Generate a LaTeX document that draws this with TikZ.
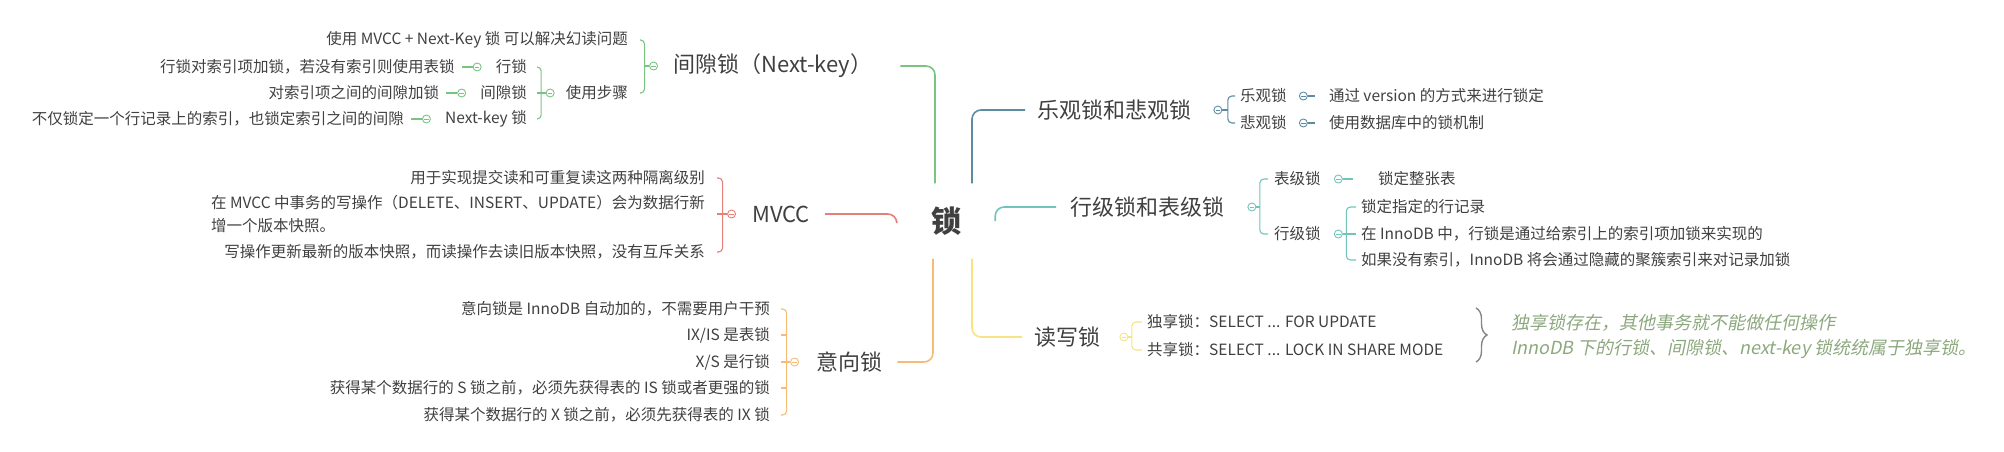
\documentclass[tikz,border=0pt]{standalone}
\usepackage{fontspec}
\setmainfont{Noto Sans CJK SC}
\newfontfamily\slantfont{Noto Sans CJK SC}[FakeSlant=0.2]
\usetikzlibrary{positioning,decorations.pathreplacing}

\definecolor{ink}{RGB}{64,64,64}
\definecolor{gapcol}{RGB}{122,196,130}
\definecolor{mvcccol}{RGB}{228,128,120}
\definecolor{intcol}{RGB}{246,188,115}
\definecolor{optcol}{RGB}{92,140,162}
\definecolor{rowcol}{RGB}{112,196,186}
\definecolor{rwcol}{RGB}{248,226,130}
\definecolor{bracecol}{RGB}{135,135,135}
\definecolor{notecol}{RGB}{140,168,125}

\begin{document}
\begin{tikzpicture}[x = 1pt, y = -1pt,
        txt/.style = {inner sep = 0pt, text = ink, font = \fontsize{15.5}{23}\selectfont},
        topic/.style = {inner sep = 0pt, text = ink, font = \fontsize{22}{26}\selectfont},
        cir/.style = {circle, draw = #1, fill = white, line width = 0.9pt, minimum size = 8pt, inner sep = 0pt,
            path picture = {\draw[#1, line width = 0.8pt] ([xshift = -2.2pt]path picture bounding box.center) -- ([xshift = 2.2pt]path picture bounding box.center);}},
        branch/.style = {draw = #1, line width = 1.6pt, rounded corners = 9pt},
        twig/.style = {draw = #1, line width = 1.1pt, rounded corners = 4pt}]
        \useasboundingbox (0, 0) rectangle (2004, 452);

        \node[inner sep = 0pt, minimum width = 98pt, minimum height = 75pt, text = ink, font = \fontsize{30}{30}\selectfont\bfseries] (lock) at (946, 221) {锁};

        % 间隙锁
        \node[topic, anchor = west] (gap) at (673, 66) {间隙锁（Next-key）};
        \node[cir = gapcol, left = 15pt of gap] (gapc) {};
        \coordinate (gapb) at ([xshift = -9pt]gapc.center);
        \node[txt, anchor = east] (gap1) at (628, 40) {使用 MVCC + Next-Key 锁 可以解决幻读问题};
        \node[txt, anchor = east] (gap2) at (628, 93) {使用步骤};
        \node[cir = gapcol, left = 11pt of gap2] (stepc) {};
        \coordinate (stepb) at ([xshift = -9pt]stepc.center);
        \node[txt, anchor = east] (step1) at (527, 67) {行锁};
        \node[txt, anchor = east] (step2) at (527, 93) {间隙锁};
        \node[txt, anchor = east] (step3) at (527, 119) {Next-key 锁};
        \foreach \i in {1, 2, 3}
            \node[cir = gapcol, left = 14pt of step\i] (stepc\i) {};
        \node[txt, left = 18pt of stepc1] (stepnote1) {行锁对索引项加锁，若没有索引则使用表锁};
        \node[txt, left = 18pt of stepc2] (stepnote2) {对索引项之间的间隙加锁};
        \node[txt, left = 18pt of stepc3] (stepnote3) {不仅锁定一个行记录上的索引，也锁定索引之间的间隙};

        \draw[branch = gapcol] ([xshift = -11pt]lock.north) |- ([xshift = 28pt]gap.east);
        \draw[twig = gapcol] ([xshift = 12pt]gap1.east) -| (gapb) |- ([xshift = 12pt]gap2.east);
        \draw[twig = gapcol] (gapc.west) -- (gapb);
        \draw[twig = gapcol] ([xshift = 10pt]step1.east) -| (stepb) |- ([xshift = 10pt]step3.east);
        \draw[twig = gapcol] (stepc.west) -- ([xshift = 10pt]step2.east);
        \foreach \i in {1, 2, 3}
            \draw[twig = gapcol] (stepc\i.west) -- ([xshift = 7pt]stepnote\i.east);

        % MVCC
        \node[topic, anchor = west] (mvcc) at (752, 214) {MVCC};
        \node[cir = mvcccol, left = 16pt of mvcc] (mvccc) {};
        \coordinate (mvccb) at ([xshift = -9pt]mvccc.center);
        \node[txt, anchor = east] (mvcc1) at (705, 178) {用于实现提交读和可重复读这两种隔离级别};
        \node[txt, anchor = east, align = left] (mvcc2) at (705, 214) {在 MVCC 中事务的写操作（DELETE、INSERT、UPDATE）会为数据行新\\增一个版本快照。};
        \node[txt, anchor = east] (mvcc3) at (705, 252) {写操作更新最新的版本快照，而读操作去读旧版本快照，没有互斥关系};

        \draw[branch = mvcccol] ([xshift = 15pt]mvcc.east) -| (lock.west);
        \draw[twig = mvcccol] ([xshift = 12pt]mvcc1.east) -| (mvccb) |- ([xshift = 12pt]mvcc3.east);
        \draw[twig = mvcccol] (mvccc.west) -- ([xshift = 12pt]mvcc2.east);

        % 意向锁
        \node[topic, anchor = west] (intent) at (816, 362) {意向锁};
        \node[cir = intcol, left = 17pt of intent] (intc) {};
        \coordinate (intb) at ([xshift = -8pt]intc.center);
        \node[txt, anchor = east] (int1) at (770, 309) {意向锁是 InnoDB 自动加的，不需要用户干预};
        \node[txt, anchor = east] (int2) at (770, 335) {IX/IS 是表锁};
        \node[txt, anchor = east] (int3) at (770, 362) {X/S 是行锁};
        \node[txt, anchor = east] (int4) at (770, 388) {获得某个数据行的 S 锁之前，必须先获得表的 IS 锁或者更强的锁};
        \node[txt, anchor = east] (int5) at (770, 415) {获得某个数据行的 X 锁之前，必须先获得表的 IX 锁};

        \draw[branch = intcol] ([xshift = -13pt]lock.south) |- ([xshift = 15pt]intent.east);
        \draw[twig = intcol] ([xshift = 11pt]int1.east) -| (intb) |- ([xshift = 11pt]int5.east);
        \draw[twig = intcol] (intc.west) -- ([xshift = 11pt]int3.east);
        \foreach \i in {2, 4}
            \draw[twig = intcol] (intb |- int\i.east) -- ([xshift = 11pt]int\i.east);

        % 乐观锁和悲观锁
        \node[topic, anchor = west] (optim) at (1037, 110) {乐观锁和悲观锁};
        \node[cir = optcol, right = 22pt of optim] (optc) {};
        \coordinate (optb) at ([xshift = 10pt]optc.center);
        \node[txt, anchor = west] (opt1) at (1240, 96) {乐观锁};
        \node[txt, anchor = west] (opt2) at (1240, 123) {悲观锁};
        \foreach \i in {1, 2}
            \node[cir = optcol, right = 12pt of opt\i] (optc\i) {};
        \node[txt, right = 21pt of optc1] (optnote1) {通过 version 的方式来进行锁定};
        \node[txt, right = 21pt of optc2] (optnote2) {使用数据库中的锁机制};

        \draw[branch = optcol] ([xshift = 26pt]lock.north) |- ([xshift = -12pt]optim.west);
        \draw[twig = optcol] ([xshift = -5pt]opt1.west) -| (optb) |- ([xshift = -5pt]opt2.west);
        \draw[twig = optcol] (optc.east) -- (optb);
        \foreach \i in {1, 2}
            \draw[twig = optcol] (optc\i.east) -- ([xshift = -14pt]optnote\i.west);

        % 行级锁和表级锁
        \node[topic, anchor = west] (rowtab) at (1070, 207) {行级锁和表级锁};
        \node[cir = rowcol, right = 23pt of rowtab] (rowc) {};
        \coordinate (rowb) at ([xshift = 8pt]rowc.center);
        \node[txt, anchor = west] (row1) at (1274, 179) {表级锁};
        \node[txt, anchor = west] (row2) at (1274, 234) {行级锁};
        \node[cir = rowcol, right = 13pt of row1] (rowc1) {};
        \node[cir = rowcol, right = 13pt of row2] (rowc2) {};
        \coordinate (rowb2) at ([xshift = 8pt]rowc2.center);
        \node[txt, right = 35pt of rowc1] (rownote) {锁定整张表};
        \node[txt, anchor = west] (rowline1) at (1361, 207) {锁定指定的行记录};
        \node[txt, anchor = west] (rowline2) at (1361, 234) {在 InnoDB 中，行锁是通过给索引上的索引项加锁来实现的};
        \node[txt, anchor = west] (rowline3) at (1361, 260) {如果没有索引，InnoDB 将会通过隐藏的聚簇索引来对记录加锁};

        \draw[branch = rowcol] (lock.east) |- ([xshift = -14pt]rowtab.west);
        \draw[twig = rowcol] ([xshift = -6pt]row1.west) -| (rowb) |- ([xshift = -6pt]row2.west);
        \draw[twig = rowcol] (rowc.east) -- (rowb);
        \draw[twig = rowcol] (rowc1.east) -- ([xshift = -25pt]rownote.west);
        \draw[twig = rowcol] ([xshift = -5pt]rowline1.west) -| (rowb2) |- ([xshift = -5pt]rowline3.west);
        \draw[twig = rowcol] (rowc2.east) -- ([xshift = -5pt]rowline2.west);

        % 读写锁
        \node[topic, anchor = west] (rw) at (1034, 337) {读写锁};
        \node[cir = rwcol, right = 19pt of rw] (rwc) {};
        \coordinate (rwb) at ([xshift = 8pt]rwc.center);
        \node[txt, anchor = west] (rw1) at (1147, 322) {独享锁：SELECT ... FOR UPDATE};
        \node[txt, anchor = west] (rw2) at (1147, 350) {共享锁：SELECT ... LOCK IN SHARE MODE};

        \draw[branch = rwcol] ([xshift = 26pt]lock.south) |- ([xshift = -12pt]rw.west);
        \draw[twig = rwcol] ([xshift = -5pt]rw1.west) -| (rwb) |- ([xshift = -5pt]rw2.west);
        \draw[twig = rwcol] (rwc.east) -- (rwb);

        \coordinate (bracetop) at (1476, 308);
        \coordinate (bracebot) at (1476, 362);
        \draw[bracecol, line width = 1.4pt, decorate, decoration = {brace, amplitude = 11pt}] (bracetop) -- (bracebot);
        \node[inner sep = 0pt, anchor = west, text = notecol, font = \fontsize{18}{22}\slantfont] (rwnote1) at (1511, 323) {独享锁存在，其他事务就不能做任何操作};
        \node[inner sep = 0pt, anchor = west, text = notecol, font = \fontsize{18}{22}\slantfont] (rwnote2) at (1511, 349) {InnoDB 下的行锁、间隙锁、next-key 锁统统属于独享锁。};
    \end{tikzpicture}
\end{document}
